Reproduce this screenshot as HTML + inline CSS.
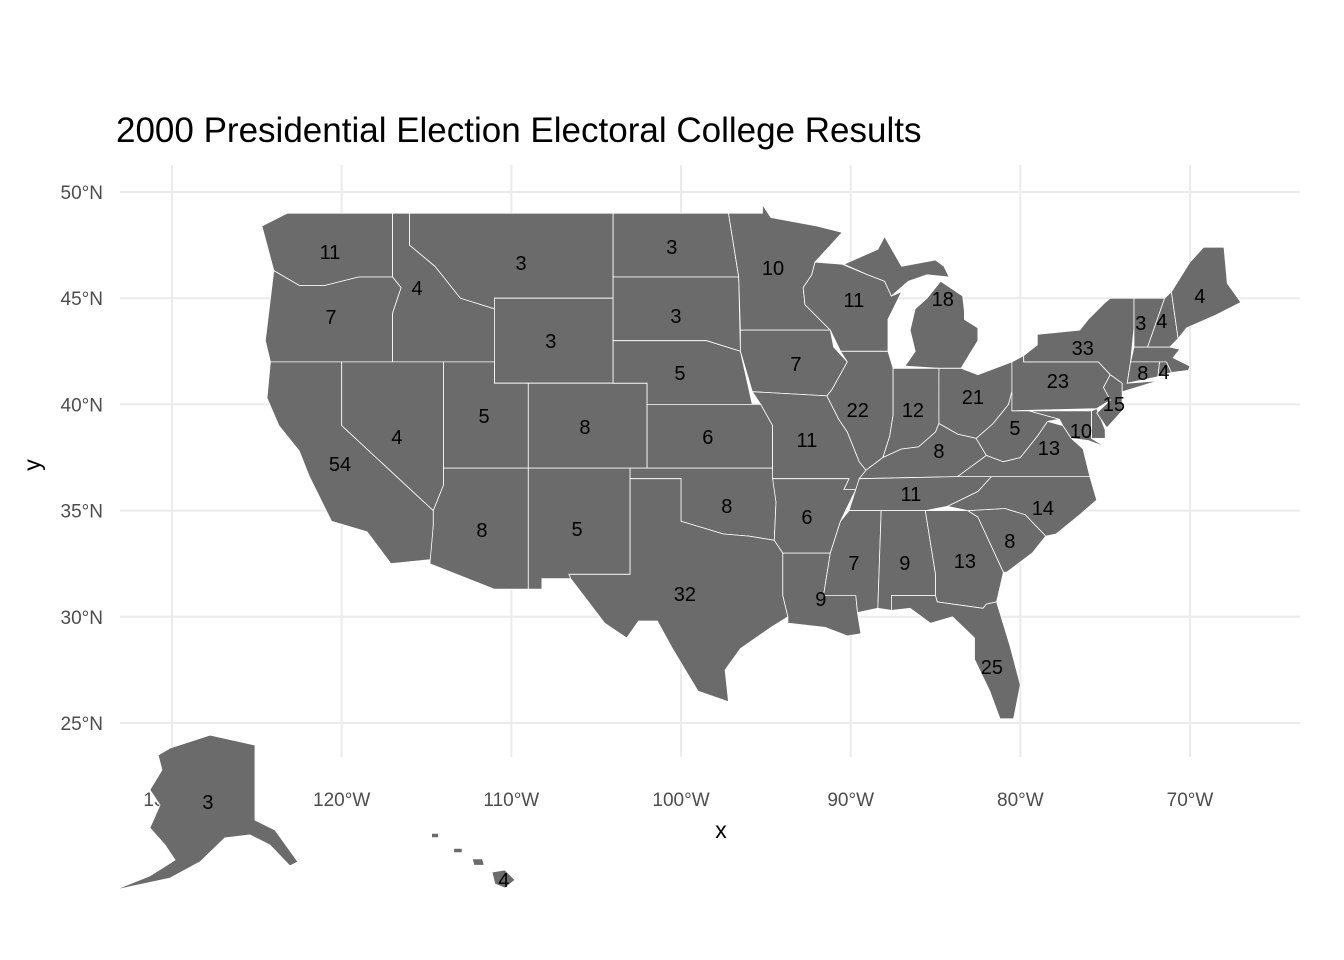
<!DOCTYPE html>
<html><head><meta charset="utf-8"><style>
html,body{margin:0;padding:0;background:#fff;}
svg{display:block;font-family:"Liberation Sans",Arial,sans-serif;}
</style></head><body>
<svg id="chart" width="1344" height="960" viewBox="0 0 1344 960">
<text x="116" y="142" font-size="35" fill="#000">2000 Presidential Election Electoral College Results</text>
<g id="grid"></g>
<g id="ticks"></g>
<g id="states"></g>
<g id="labels"></g>
<text x="721" y="838" font-size="23" text-anchor="middle" fill="#000">x</text>
<text transform="translate(40,465) rotate(-90)" font-size="23" text-anchor="middle" fill="#000">y</text>
</svg>
<script>
const lonTicks=[-130,-120,-110,-100,-90,-80,-70];
const lonTickLabels=["130°W","120°W","110°W","100°W","90°W","80°W","70°W"];
const latTicks=[50,45,40,35,30,25];
const latTickLabels=["50°N","45°N","40°N","35°N","30°N","25°N"];
const stateNames=["WA","OR","CA","ID","NV","MT","WY","UT","CO","AZ","NM","ND","SD","NE","KS","OK","TX","MN","IA","MO","AR","LA","WI","IL","MI","MIU","IN","OH","KY","TN","MS","AL","GA","FL","SC","NC","VA","WV","MD","DE","PA","NJ","NY","VT","NH","ME","MA","RI","CT","AK","HI1","HI2","HI3","HI4"];
const stateShapes={
WA:[[-124.7,48.4],[-123.2,49],[-117,49],[-117,46],[-119,46],[-121,45.6],[-122.5,45.6],[-124,46.3]],
OR:[[-124,46.3],[-122.5,45.6],[-121,45.6],[-119,46],[-117,46],[-116.5,45.5],[-117,44.3],[-117,42],[-124.2,42],[-124.5,43]],
CA:[[-124.2,42],[-120,42],[-120,39],[-114.6,35],[-114.6,34.3],[-114.7,32.7],[-117.1,32.5],[-118.5,34],[-120.6,34.5],[-121.9,36.6],[-122.5,37.8],[-123.7,39],[-124.4,40.3]],
ID:[[-117,49],[-116,49],[-116,47.5],[-114.5,46.5],[-113,45],[-111,44.5],[-111,42],[-117,42],[-117,44.3],[-116.5,45.5],[-117,46]],
NV:[[-120,42],[-114,42],[-114,36.2],[-114.6,35],[-120,39]],
MT:[[-116,49],[-104,49],[-104,45],[-111,45],[-111,44.5],[-113,45],[-114.5,46.5],[-116,47.5]],
WY:[[-111,45],[-104,45],[-104,41],[-111,41]],
UT:[[-114,42],[-111,42],[-111,41],[-109,41],[-109,37],[-114,37]],
CO:[[-109,41],[-102,41],[-102,37],[-109,37]],
AZ:[[-114,37],[-109,37],[-109,31.3],[-111,31.3],[-114.8,32.5],[-114.6,34.3],[-114.6,35],[-114,36.2]],
NM:[[-109,37],[-103,37],[-103,32],[-106.6,32],[-106.5,31.8],[-108.2,31.8],[-108.2,31.3],[-109,31.3]],
ND:[[-104,49],[-97.2,49],[-96.6,46],[-104,46]],
SD:[[-104,46],[-96.6,46],[-96.5,42.5],[-98.5,43],[-104,43]],
NE:[[-104,43],[-98.5,43],[-96.5,42.5],[-95.8,40],[-102,40],[-102,41],[-104,41]],
KS:[[-102,40],[-95.3,40],[-94.6,39],[-94.6,37],[-102,37]],
OK:[[-103,37],[-94.6,37],[-94.4,35.4],[-94.5,33.6],[-96,33.8],[-97.5,33.9],[-100,34.5],[-100,36.5],[-103,36.5]],
TX:[[-106.6,32],[-103,32],[-103,36.5],[-100,36.5],[-100,34.5],[-97.5,33.9],[-96,33.8],[-94.5,33.6],[-94,33],[-94,31],[-93.7,30],[-94.7,29.5],[-96.5,28.5],[-97.4,27.5],[-97.2,26],[-99,26.5],[-100.5,28.5],[-101.4,29.8],[-102.5,29.8],[-103.2,29],[-104.5,29.7],[-106.5,31.8]],
MN:[[-97.2,49],[-95.2,49],[-95.2,49.4],[-94.7,48.8],[-92,48.4],[-90.5,48.1],[-92.1,46.7],[-92.3,46.1],[-92.8,45.5],[-92.7,44.7],[-91.2,43.5],[-96.5,43.5],[-96.6,46]],
IA:[[-96.5,43.5],[-91.2,43.5],[-91,42.7],[-90.2,42],[-91.1,40.7],[-91.4,40.4],[-95.8,40.6],[-96.5,42.5]],
MO:[[-95.8,40.6],[-91.4,40.4],[-90.7,39.3],[-90.2,38.7],[-89.5,37.3],[-89.1,36.9],[-89.7,36],[-90.4,36],[-90.1,36.5],[-94.6,36.5],[-94.6,39],[-95.3,40]],
AR:[[-94.6,36.5],[-90.1,36.5],[-90.4,36],[-89.7,36],[-90.6,34.5],[-91.2,33],[-94,33],[-94.5,33.6],[-94.4,35.4]],
LA:[[-94,33],[-91.2,33],[-91.6,31],[-89.7,31],[-89.6,30.2],[-89.4,29.2],[-90.2,29.1],[-91.5,29.5],[-93.7,29.7],[-93.7,30],[-94,31]],
WI:[[-92.1,46.7],[-90.5,46.6],[-89,46.1],[-88,45.8],[-87.6,45.1],[-87,45.3],[-87.8,44],[-87.8,42.5],[-90.6,42.5],[-91.2,43.5],[-92.7,44.7],[-92.8,45.5],[-92.3,46.1]],
IL:[[-90.6,42.5],[-87.8,42.5],[-87.5,41.7],[-87.5,39.5],[-87.7,38.5],[-88.1,37.5],[-89.1,36.9],[-89.5,37.3],[-90.2,38.7],[-90.7,39.3],[-91.4,40.4],[-91.1,40.7],[-90.2,42]],
MI:[[-86.8,41.8],[-84.8,41.7],[-83.5,41.7],[-82.5,43],[-82.5,43.6],[-83.3,44],[-83.3,44.4],[-83.4,45.1],[-84.7,45.8],[-85.5,45],[-86.2,44.5],[-86.5,43.5],[-86.2,42.5]],
MIU:[[-90.4,46.6],[-88.4,47.3],[-88,47.9],[-87,46.5],[-85,46.8],[-84.5,46.5],[-84.2,46],[-85.5,46.1],[-86.6,45.8],[-87.6,45.1],[-88,45.8],[-89,46.1]],
IN:[[-87.5,41.7],[-84.8,41.7],[-84.8,39.1],[-85,38.7],[-86,38],[-87,37.9],[-88.1,37.5],[-87.7,38.5],[-87.5,39.5]],
OH:[[-84.8,41.7],[-83.5,41.7],[-82.5,41.4],[-80.5,42],[-80.5,40.6],[-80.7,40],[-81.6,39.1],[-82.6,38.4],[-83.7,38.6],[-84.8,39.1]],
KY:[[-89.1,36.9],[-89.5,36.5],[-83.7,36.6],[-82.5,37.3],[-82,37.6],[-82.6,38.4],[-83.7,38.6],[-84.8,39.1],[-85,38.7],[-86,38],[-87,37.9],[-88.1,37.5]],
TN:[[-90.1,35],[-89.7,36],[-89.5,36.5],[-83.7,36.6],[-81.7,36.6],[-82.5,35.9],[-84.3,35.2],[-85.6,35],[-88.2,35]],
MS:[[-90.1,35],[-88.2,35],[-88.4,30.4],[-89.6,30.2],[-89.7,31],[-91.6,31],[-91.2,33],[-90.6,34.5]],
AL:[[-88.2,35],[-85.6,35],[-85,32],[-85,31],[-87.6,31],[-87.6,30.3],[-88.4,30.4]],
GA:[[-85.6,35],[-83.1,35],[-82.5,34.7],[-81,32.1],[-81.4,30.7],[-82,30.6],[-82.2,30.4],[-84.9,30.7],[-85,31],[-85,32]],
FL:[[-87.6,31],[-85,31],[-84.9,30.7],[-82.2,30.4],[-82,30.6],[-81.4,30.7],[-80.6,28.6],[-80,26.8],[-80.4,25.2],[-81.2,25.2],[-81.8,26.5],[-82.7,28],[-82.7,29],[-84,30],[-85.3,29.7],[-86.5,30.4],[-87.6,30.3]],
SC:[[-83.1,35],[-80.9,35.1],[-79.7,34.8],[-78.5,33.8],[-79.3,33],[-80.8,32.1],[-81,32.1],[-82.5,34.7]],
NC:[[-84.3,35.2],[-82.5,35.9],[-81.7,36.6],[-75.9,36.6],[-75.5,35.5],[-76.5,34.8],[-77.9,33.9],[-78.5,33.8],[-79.7,34.8],[-80.9,35.1],[-83.1,35]],
VA:[[-83.7,36.6],[-75.9,36.6],[-76.3,37.9],[-77,38.4],[-77.5,39],[-78.4,39.2],[-79,38.5],[-80,37.5],[-81,37.3],[-82,37.6],[-82.5,37.3]],
WV:[[-82.6,38.4],[-82,37.6],[-81,37.3],[-80,37.5],[-79,38.5],[-78.4,39.2],[-77.7,39.3],[-79.5,39.7],[-80.5,39.7],[-80.5,40.6],[-80.7,40],[-81.6,39.1]],
MD:[[-79.5,39.7],[-75.8,39.7],[-75.8,38.4],[-75,38],[-76,38.3],[-77,38.4],[-77.5,39],[-77.7,39.3]],
DE:[[-75.8,39.7],[-75.5,39.8],[-75,38.8],[-75,38.4],[-75.8,38.4]],
PA:[[-80.5,42],[-79.8,42.3],[-79.8,42],[-75.4,42],[-74.7,41.4],[-75.1,40.8],[-74.7,40.2],[-75.5,39.8],[-80.5,39.7]],
NJ:[[-75.1,40.8],[-74.7,41.4],[-74,41],[-74,40.5],[-74,39.7],[-74.9,38.9],[-75.5,39.6],[-74.7,40.2]],
NY:[[-79.8,42],[-79.8,42.3],[-79,42.8],[-79,43.3],[-76.5,43.5],[-76,44],[-75,44.8],[-74.7,45],[-73.3,45],[-73.3,43.6],[-73.5,42],[-73.7,41],[-72,41.1],[-71.9,41.1],[-74,40.6],[-74,41],[-74.7,41.4],[-75.4,42]],
VT:[[-73.3,45],[-71.5,45],[-72.5,42.7],[-73.3,42.7]],
NH:[[-71.5,45],[-71.1,45.3],[-70.7,43.1],[-71.2,42.7],[-72.5,42.7]],
ME:[[-71.1,45.3],[-70,46.7],[-69.2,47.4],[-68,47.4],[-67.8,45.7],[-67,44.8],[-68.5,44.2],[-70.2,43.6],[-70.7,43.1]],
MA:[[-73.3,42.7],[-71.2,42.7],[-70.6,42.6],[-71,42.2],[-70,41.8],[-70.1,41.6],[-71.1,41.5],[-71.4,42],[-71.8,42],[-73.5,42]],
RI:[[-71.8,42],[-71.4,42],[-71.1,41.5],[-71.9,41.3]],
CT:[[-73.5,42],[-71.8,42],[-71.9,41.3],[-73.7,41]],
AK:[[-130.12,23.82],[-127.76,24.43],[-125.11,23.96],[-125.11,20.43],[-123.93,19.96],[-122.58,18.46],[-123.05,18.27],[-124.23,19.26],[-125.4,19.73],[-126.88,19.59],[-128.35,18.46],[-130.12,17.7],[-133.36,17.14],[-131.3,17.8],[-129.82,18.55],[-130.41,19.26],[-131.3,20.06],[-130.71,21.14],[-131.3,21.85],[-130.59,22.79],[-130.82,23.49]],
HI1:[[-111.14,17.98],[-110.38,18.08],[-109.79,17.61],[-110.38,17.23],[-110.97,17.42]],
HI2:[[-112.3,18.6],[-111.7,18.6],[-111.6,18.3],[-112.2,18.3]],
HI3:[[-113.4,19.1],[-112.9,19.1],[-112.9,18.9],[-113.4,18.9]],
HI4:[[-114.7,19.8],[-114.3,19.8],[-114.3,19.6],[-114.7,19.6]]
};
const labelText=["11","7","4","3","3","10","11","18","4","3","4","33","8","4","3","3","5","7","23","15","22","12","21","5","8","4","6","11","5","10","13","8","54","11","14","8","6","8","5","8","7","9","13","32","9","25","3","4"];
const labelLon=[-120.69,-120.63,-115.56,-109.43,-100.54,-94.58,-89.81,-84.57,-69.42,-72.9,-71.66,-76.32,-72.78,-71.54,-100.3,-107.67,-100.06,-93.23,-77.79,-74.49,-89.58,-86.33,-82.8,-111.61,-105.66,-116.74,-98.42,-92.58,-80.32,-76.43,-78.32,-84.8,-120.1,-86.45,-78.67,-97.3,-92.58,-111.73,-106.13,-80.62,-89.81,-86.81,-83.27,-99.77,-91.76,-81.68,-127.88,-110.44];
const labelLat=[47.18,44.11,45.48,46.66,47.41,46.42,44.92,44.96,45.1,43.83,43.93,42.66,41.48,41.53,44.16,42.99,41.48,41.9,41.1,40.02,39.74,39.74,40.35,39.45,38.94,38.47,38.47,38.32,38.89,38.75,37.95,37.81,37.19,35.78,35.12,35.22,34.7,34.09,34.13,33.57,32.53,32.53,32.63,31.07,30.84,27.64,21.28,17.61];
const NS="http://www.w3.org/2000/svg";
function xs(lon){return 172+(lon+130)*16.967;}
function ys(lat){return 192+(50-lat)*21.24;}
const grid=document.getElementById('grid'),ticks=document.getElementById('ticks');
lonTicks.forEach((v,i)=>{
  const l=document.createElementNS(NS,'line');
  l.setAttribute('x1',xs(v));l.setAttribute('x2',xs(v));l.setAttribute('y1',165);l.setAttribute('y2',757);
  l.setAttribute('stroke','#ebebeb');l.setAttribute('stroke-width','2');
  
  
  grid.appendChild(l);
  const t=document.createElementNS(NS,'text');
  t.setAttribute('x',xs(v));t.setAttribute('y',806);t.setAttribute('text-anchor','middle');
  t.setAttribute('font-size','19');t.setAttribute('fill','#4d4d4d');t.textContent=lonTickLabels[i];
  
  
  ticks.appendChild(t);
});
latTicks.forEach((v,i)=>{
  const l=document.createElementNS(NS,'line');
  l.setAttribute('x1',120);l.setAttribute('x2',1300);l.setAttribute('y1',ys(v));l.setAttribute('y2',ys(v));
  l.setAttribute('stroke','#ebebeb');l.setAttribute('stroke-width','2');
  
  
  grid.appendChild(l);
  const t=document.createElementNS(NS,'text');
  t.setAttribute('x',103);t.setAttribute('y',ys(v)+7);t.setAttribute('text-anchor','end');
  t.setAttribute('font-size','19');t.setAttribute('fill','#4d4d4d');t.textContent=latTickLabels[i];
  
  
  ticks.appendChild(t);
});
const sg=document.getElementById('states');
stateNames.forEach(n=>{
  const p=document.createElementNS(NS,'polygon');
  p.setAttribute('points',stateShapes[n].map(c=>xs(c[0]).toFixed(1)+','+ys(c[1]).toFixed(1)).join(' '));
  p.setAttribute('fill','#6b6b6b');p.setAttribute('stroke','#fff');p.setAttribute('stroke-width','0.8');
  
  
  sg.appendChild(p);
});
const lg=document.getElementById('labels');
labelText.forEach((s,i)=>{
  const t=document.createElementNS(NS,'text');
  t.setAttribute('x',xs(labelLon[i]));t.setAttribute('y',ys(labelLat[i])+7);
  t.setAttribute('text-anchor','middle');t.setAttribute('font-size','20');t.setAttribute('fill','#000');
  t.textContent=s;
  
  
  lg.appendChild(t);
});
</script>
</body></html>
